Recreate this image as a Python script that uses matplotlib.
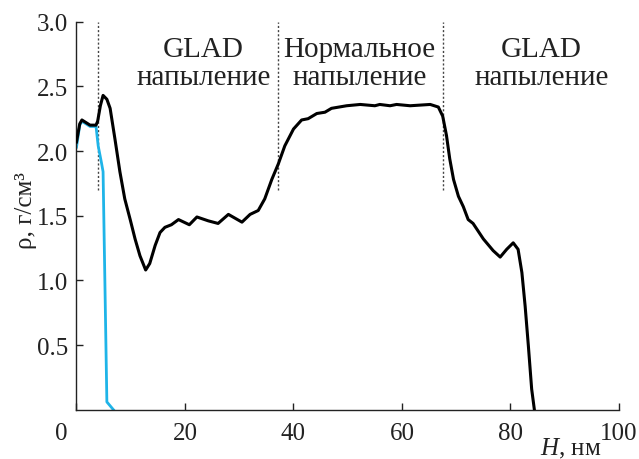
import numpy as np
import matplotlib.pyplot as plt
import matplotlib.transforms as mtransforms

# Density profile, black curve
h_total = [0.0, 0.6, 1.0, 1.75, 2.5, 3.6, 3.9, 4.4, 4.9, 5.6, 6.2, 7.1, 8.0, 8.9, 9.9,
           10.8, 11.7, 12.75, 13.5, 14.5, 15.4, 16.3, 17.5, 18.8, 20.8, 22.2, 24.3,
           26.1, 28.0, 30.5, 32.0, 33.5, 34.7, 36.0, 37.2, 38.4, 40.0, 41.5, 42.7,
           44.3, 45.8, 47.0, 49.8, 52.3, 55.0, 55.9, 57.8, 59.0, 61.5, 65.2, 66.7,
           67.5, 68.2, 68.8, 69.5, 70.4, 71.3, 72.2, 73.1, 75.0, 76.8, 78.1, 79.3,
           80.5, 81.4, 82.1, 82.7, 83.3, 83.9, 84.4]
rho_total = [2.07, 2.21, 2.24, 2.22, 2.20, 2.20, 2.23, 2.35, 2.43, 2.40, 2.33, 2.09,
             1.84, 1.63, 1.47, 1.32, 1.19, 1.08, 1.13, 1.27, 1.37, 1.41, 1.43, 1.47,
             1.43, 1.49, 1.46, 1.44, 1.51, 1.45, 1.51, 1.54, 1.63, 1.78, 1.90, 2.04,
             2.17, 2.24, 2.25, 2.29, 2.30, 2.33, 2.35, 2.36, 2.35, 2.36, 2.35, 2.36,
             2.35, 2.36, 2.34, 2.27, 2.12, 1.94, 1.78, 1.65, 1.57, 1.47, 1.44, 1.32,
             1.23, 1.18, 1.24, 1.29, 1.24, 1.06, 0.80, 0.49, 0.16, 0.0]

# Blue curve (first layer)
h_first = [0.0, 0.6, 1.0, 1.75, 2.5, 3.6, 4.0, 4.6, 4.9, 5.6, 6.8]
rho_first = [2.03, 2.20, 2.23, 2.21, 2.19, 2.19, 2.04, 1.91, 1.84, 0.06, 0.0]

boundaries = [3.9, 37.2, 67.5]
regions = ['GLAD\nнапыление', 'Нормальное\nнапыление', 'GLAD\nнапыление']
region_x = [23.4, 52.2, 85.7]

plt.rcParams['font.family'] = ['Liberation Serif', 'DejaVu Serif']
plt.rcParams['mathtext.fontset'] = 'custom'
plt.rcParams['mathtext.rm'] = 'Liberation Serif'
plt.rcParams['mathtext.it'] = 'Liberation Serif:italic'

fig = plt.figure(figsize=(6.39, 4.60), dpi=100)
ax = fig.add_axes([0.1197, 0.1072, 0.8490, 0.8435])

ax.plot(h_first, rho_first, color='#1fb4e8', lw=2.0, zorder=2)
ax.plot(h_total, rho_total, color='black', lw=2.2, zorder=3)

for b in boundaries:
    ax.plot([b, b], [1.7, 3.0], color='#444444', lw=1.0, ls=(0, (1.5, 1.5)), zorder=1)

for x, t in zip(region_x, regions):
    ax.text(x, 2.68, t, ha='center', va='center', fontsize=21, linespacing=1.12,
            color='#222222')

ax.set_xlim(0, 100)
ax.set_ylim(0, 3.0)
ax.set_xticks([0, 20, 40, 60, 80, 100])
ax.set_yticks([0.5, 1.0, 1.5, 2.0, 2.5, 3.0])
ax.set_yticklabels(['0.5', '1.0', '1.5', '2.0', '2.5', '3.0'])
ax.tick_params(direction='in', length=5, width=1, labelsize=18, colors='#222222')
ax.tick_params(axis='x', pad=9)
ax.tick_params(axis='y', pad=6)
for s in ['top', 'right']:
    ax.spines[s].set_visible(False)
for s in ['left', 'bottom']:
    ax.spines[s].set_linewidth(1.0)
    ax.spines[s].set_color('#222222')

# shift the "0" label to the left of the origin
lbl0 = ax.get_xticklabels()[0]
lbl0.set_transform(lbl0.get_transform() + mtransforms.ScaledTranslation(-0.15, 0, fig.dpi_scale_trans))

fig.text(0.942, 0.01, r'$H$, нм', ha='right', va='baseline', fontsize=18, color='#222222')
fig.text(0.04, 0.543, 'ρ, г/см³', ha='center', va='center', rotation=90, fontsize=18,
         color='#222222')

fig.savefig('out.png', dpi=100)
